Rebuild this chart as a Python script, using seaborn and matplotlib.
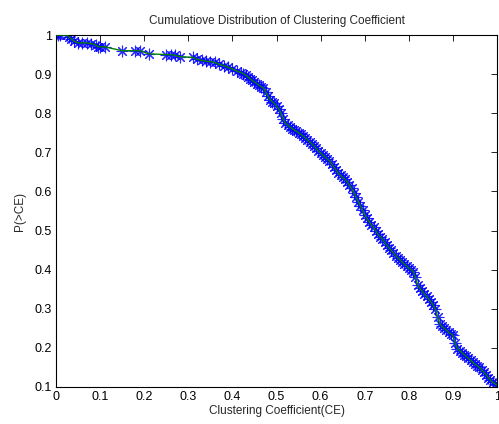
#!/usr/bin/env python3
"""Cumulative distribution of clustering coefficient, MATLAB-like look."""

import matplotlib as mpl
import matplotlib.pyplot as plt
import pandas as pd
import seaborn as sns
from matplotlib.ticker import FuncFormatter

mpl.use('Agg')

# Values
cc = [0.000, 0.005, 0.010, 0.025, 0.030, 0.035, 0.040, 0.050, 0.060, 0.070,
      0.080, 0.090, 0.095, 0.100, 0.110, 0.150, 0.180, 0.190, 0.210, 0.250,
      0.260, 0.270, 0.280, 0.310, 0.320, 0.330, 0.340, 0.350, 0.360, 0.370,
      0.380, 0.390, 0.400, 0.410, 0.420, 0.425,
      0.430, 0.435, 0.440, 0.445, 0.450, 0.455, 0.460, 0.465, 0.470, 0.475,
      0.480, 0.485, 0.490, 0.495, 0.500, 0.505, 0.510, 0.515, 0.520, 0.525,
      0.530, 0.535, 0.540, 0.545, 0.550, 0.555, 0.560, 0.565, 0.570, 0.575,
      0.580, 0.585, 0.590, 0.595, 0.600, 0.605, 0.610, 0.615, 0.620, 0.625,
      0.630, 0.635, 0.640, 0.645, 0.650, 0.655, 0.660, 0.665, 0.670, 0.675,
      0.680, 0.685, 0.690, 0.695, 0.700, 0.705, 0.710, 0.715, 0.720, 0.725,
      0.730, 0.735, 0.740, 0.745, 0.750, 0.755, 0.760, 0.765, 0.770, 0.775,
      0.780, 0.785, 0.790, 0.795, 0.800, 0.805, 0.810, 0.815, 0.820, 0.825,
      0.830, 0.835, 0.840, 0.845, 0.850, 0.855, 0.860, 0.865, 0.870, 0.875,
      0.880, 0.885, 0.890, 0.895, 0.900, 0.905, 0.910, 0.915, 0.920, 0.925,
      0.930, 0.935, 0.940, 0.945, 0.950, 0.955, 0.960, 0.965, 0.970, 0.975,
      0.980, 0.985, 0.990, 0.995, 1.000]
p_gt = [1.000, 1.000, 1.000, 1.000, 0.995, 0.990, 0.985, 0.980, 0.980, 0.980,
        0.978, 0.975, 0.970, 0.970, 0.970, 0.960, 0.960, 0.960, 0.952, 0.950,
        0.950, 0.948, 0.945, 0.943, 0.938, 0.935, 0.933, 0.932, 0.930, 0.925,
        0.922, 0.918, 0.913, 0.908, 0.904, 0.901,
        0.898, 0.893, 0.888, 0.884, 0.880, 0.876, 0.872, 0.868, 0.865, 0.855,
        0.845, 0.835, 0.830, 0.825, 0.818, 0.812, 0.800, 0.785, 0.775, 0.770,
        0.765, 0.761, 0.757, 0.754, 0.750, 0.746, 0.742, 0.737, 0.732, 0.727,
        0.722, 0.716, 0.710, 0.704, 0.698, 0.693, 0.688, 0.683, 0.678, 0.670,
        0.662, 0.655, 0.647, 0.641, 0.636, 0.631, 0.625, 0.617, 0.608, 0.597,
        0.585, 0.574, 0.563, 0.552, 0.540, 0.531, 0.523, 0.515, 0.508, 0.499,
        0.490, 0.484, 0.478, 0.470, 0.463, 0.456, 0.450, 0.443, 0.436, 0.430,
        0.425, 0.419, 0.414, 0.409, 0.404, 0.400, 0.395, 0.380, 0.360, 0.352,
        0.345, 0.338, 0.332, 0.325, 0.318, 0.310, 0.300, 0.280, 0.262, 0.255,
        0.250, 0.245, 0.240, 0.236, 0.232, 0.212, 0.198, 0.193, 0.188, 0.183,
        0.178, 0.173, 0.168, 0.163, 0.158, 0.154, 0.150, 0.144, 0.138, 0.131,
        0.124, 0.118, 0.112, 0.108, 0.105]

x_ticks = [0, 0.1, 0.2, 0.3, 0.4, 0.5, 0.6, 0.7, 0.8, 0.9, 1]
y_ticks = [0.1, 0.2, 0.3, 0.4, 0.5, 0.6, 0.7, 0.8, 0.9, 1]


def main():
    df = pd.DataFrame({"cc": cc, "p": p_gt})

    sns.set_style("white")
    plt.rcParams["font.family"] = ["Liberation Sans", "DejaVu Sans"]

    fig = plt.figure(figsize=(4.99, 4.24), dpi=100)
    ax = fig.add_axes([0.1122, 0.0873, 0.884, 0.830])

    # asterisk markers first, green line on top (MATLAB style)
    sns.scatterplot(data=df, x="cc", y="p", marker=(8, 2, 0), s=60,
                    color="#0000ff", linewidth=0.8, edgecolor="#0000ff",
                    alpha=0.85, ax=ax, zorder=2)
    sns.lineplot(data=df, x="cc", y="p", color="#008000", linewidth=1.0,
                 sort=False, estimator=None, ax=ax, zorder=3)

    ax.set_xlim(0, 1)
    ax.set_ylim(0.1, 1)
    ax.set_xticks(x_ticks)
    ax.set_yticks(y_ticks)
    fmt = FuncFormatter(lambda v, _: f"{v:g}")
    ax.xaxis.set_major_formatter(fmt)
    ax.yaxis.set_major_formatter(fmt)
    ax.tick_params(direction="in", top=True, right=True, length=4,
                   width=0.6, labelsize=9, pad=3, colors="black")
    for sp in ax.spines.values():
        sp.set_visible(True)
        sp.set_color("black")
        sp.set_linewidth(0.8)

    ax.set_xlabel("Clustering Coefficient(CE)", fontsize=8.5, labelpad=1)
    ax.set_ylabel("P(>CE)", fontsize=8.5, labelpad=6)
    ax.set_title("Cumulatiove Distribution of Clustering Coefficient",
                 fontsize=8.5, pad=8)

    fig.savefig("out.png", dpi=100)


if __name__ == '__main__':
    main()
